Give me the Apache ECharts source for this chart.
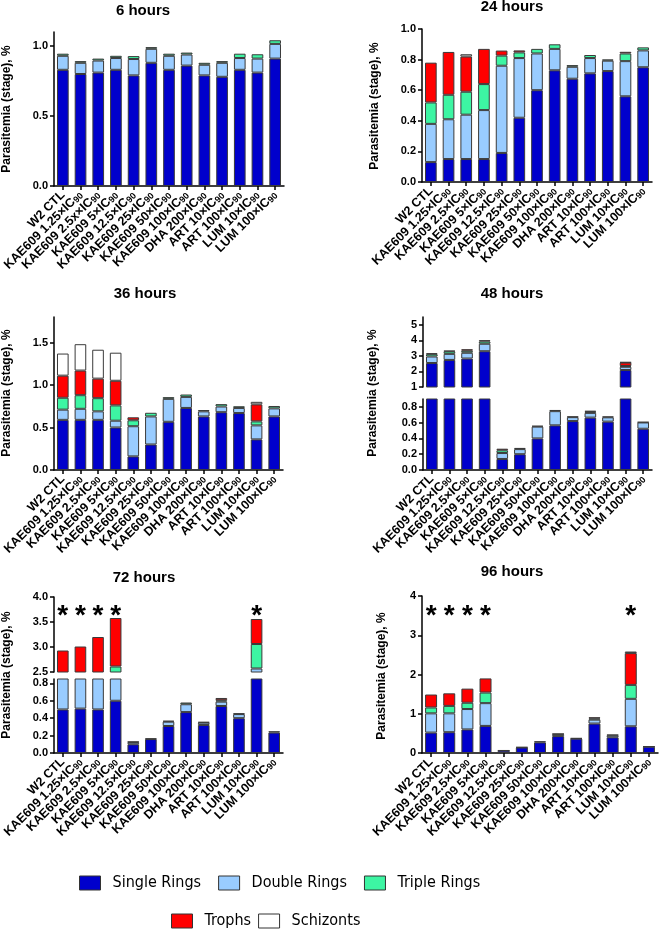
<!DOCTYPE html>
<html><head><meta charset="utf-8">
<script src="https://cdn.jsdelivr.net/npm/echarts@6/dist/echarts.min.js"></script>
<style>html,body{margin:0;padding:0;background:#fff}#c{width:660px;height:932px}</style>
</head><body><div id="c"></div>
<script>
// ---------- categories ----------
const categories = ['W2 CTL','KAE609 1.25×IC90','KAE609 2.5×IC90','KAE609 5×IC90','KAE609 12.5×IC90','KAE609 25×IC90','KAE609 50×IC90','KAE609 100×IC90','DHA 200×IC90','ART 10×IC90','ART 100×IC90','LUM 10×IC90','LUM 100×IC90'];
const categories6h = ['W2 CTL','KAE609 1.25×IC90','KAE609 2.5x×IC90','KAE609 5×IC90','KAE609 12.5×IC90','KAE609 25×IC90','KAE609 50×IC90','KAE609 100×IC90','DHA 200×IC90','ART 10×IC90','ART 100×IC90','LUM 10×IC90','LUM 100×IC90'];
const stages = ['Single Rings','Double Rings','Triple Rings','Trophs','Schizonts'];

// ---------- 6 hours ----------
const h6Single    = [0.83,0.80,0.81,0.83,0.79,0.88,0.83,0.86,0.79,0.78,0.83,0.81,0.91];
const h6Double    = [0.10,0.08,0.086,0.084,0.117,0.10,0.10,0.079,0.076,0.10,0.084,0.10,0.105];
const h6Triple    = [0.015,0.012,0.014,0.016,0.021,0.012,0.015,0.014,0.014,0.012,0.031,0.031,0.026];
const h6Trophs    = [0,0,0,0,0,0,0,0,0,0,0,0,0];
const h6Schizonts = [0,0,0,0,0,0,0,0,0,0,0,0,0];
// ---------- 24 hours ----------
const h24Single    = [0.13,0.15,0.15,0.15,0.19,0.42,0.60,0.73,0.675,0.71,0.725,0.56,0.75];
const h24Double    = [0.25,0.26,0.29,0.32,0.57,0.39,0.24,0.14,0.078,0.10,0.068,0.23,0.11];
const h24Triple    = [0.14,0.16,0.15,0.17,0.066,0.037,0.03,0.03,0.011,0.02,0.008,0.05,0.02];
const h24Trophs    = [0.26,0.28,0.23,0.23,0.033,0.013,0,0,0,0,0,0.011,0];
const h24Schizonts = [0,0,0.015,0,0,0,0,0,0,0,0,0,0];
// ---------- 36 hours ----------
const h36Single    = [0.59,0.59,0.59,0.50,0.16,0.30,0.567,0.73,0.63,0.68,0.67,0.36,0.63];
const h36Double    = [0.12,0.13,0.10,0.08,0.355,0.33,0.27,0.13,0.06,0.067,0.06,0.165,0.095];
const h36Triple    = [0.14,0.16,0.155,0.18,0.07,0.043,0.02,0.028,0.015,0.028,0.02,0.047,0.028];
const h36Trophs    = [0.26,0.29,0.23,0.29,0.035,0,0,0,0,0,0,0.20,0];
const h36Schizonts = [0.26,0.31,0.34,0.33,0,0,0,0,0,0,0,0.03,0];
// ---------- 48 hours ----------
const h48Single    = [2.54,2.74,2.83,3.30,0.14,0.20,0.40,0.566,0.62,0.664,0.613,2.09,0.523];
const h48Double    = [0.42,0.39,0.37,0.48,0.075,0.065,0.15,0.18,0.05,0.06,0.055,0.21,0.08];
const h48Triple    = [0.15,0.16,0.13,0.15,0.035,0.015,0.01,0.015,0.008,0.015,0.01,0.05,0.005];
const h48Trophs    = [0.06,0.04,0.10,0.08,0.02,0,0,0,0,0.01,0,0.22,0];
const h48Schizonts = [0,0,0,0,0,0,0,0,0,0,0,0.03,0];
// ---------- 72 hours ----------
const h72Single    = [0.50,0.51,0.50,0.60,0.10,0.16,0.31,0.47,0.322,0.54,0.40,1.30,0.235];
const h72Double    = [0.55,0.56,0.60,1.30,0.025,0.007,0.05,0.09,0.027,0.05,0.047,1.27,0.015];
const h72Triple    = [0.25,0.28,0.30,0.71,0.005,0,0.01,0.02,0.007,0.016,0.008,0.49,0];
const h72Trophs    = [1.63,1.66,1.80,0.97,0,0,0,0,0,0.026,0,0.50,0];
const h72Schizonts = [0,0,0,0,0,0,0,0,0,0,0,0,0];
// ---------- 96 hours ----------
const h96Single    = [0.52,0.53,0.60,0.69,0.06,0.14,0.27,0.43,0.365,0.75,0.40,0.68,0.16];
const h96Double    = [0.49,0.48,0.52,0.58,0.008,0.01,0.03,0.05,0.015,0.10,0.05,0.70,0.01];
const h96Triple    = [0.15,0.19,0.16,0.27,0,0,0,0.01,0,0.03,0.016,0.355,0];
const h96Trophs    = [0.33,0.32,0.36,0.36,0,0,0,0,0,0.03,0,0.81,0];
const h96Schizonts = [0,0,0,0,0,0,0,0,0,0,0,0.04,0];
// ---------- significance marks ----------
const stars72 = ['W2 CTL','KAE609 1.25×IC90','KAE609 2.5×IC90','KAE609 5×IC90','LUM 10×IC90'];
const stars96 = ['W2 CTL','KAE609 1.25×IC90','KAE609 2.5×IC90','KAE609 5×IC90','LUM 10×IC90'];

const yName = 'Parasitemia (stage), %';
const FONT = 'Arial, "Liberation Sans", sans-serif';
const LFONT = '"DejaVu Sans Condensed", Arial, sans-serif';
const colors = ['#0000CC','#99CCFF','#3DF5A3','#FF0000','#FFFFFF'];

const panels = [
  {title:'6 hours', tx:143, ty:3, cats:categories6h, values:[h6Single,h6Double,h6Triple,h6Trophs,h6Schizonts], nx:7, ny:109,
   parts:[{left:54,top:32,width:230,height:154,min:0,max:1.1,ticks:[0,0.5,1.0],dec:1}]},
  {title:'24 hours', tx:512, ty:-1, cats:categories, values:[h24Single,h24Double,h24Triple,h24Trophs,h24Schizonts], nx:375, ny:106,
   parts:[{left:422,top:29,width:230,height:153,min:0,max:1.0,ticks:[0,0.2,0.4,0.6,0.8,1.0],dec:1}]},
  {title:'36 hours', tx:145, ty:286, cats:categories, values:[h36Single,h36Double,h36Triple,h36Trophs,h36Schizonts], nx:7, ny:393,
   parts:[{left:54,top:317,width:229,height:153,min:0,max:1.8,ticks:[0,0.5,1.0,1.5],dec:1}]},
  {title:'48 hours', tx:512, ty:286, cats:categories, values:[h48Single,h48Double,h48Triple,h48Trophs,h48Schizonts], nx:373, ny:393,
   parts:[{left:423,top:399,width:229,height:71,min:0,max:0.9,ticks:[0,0.2,0.4,0.6,0.8],dec:1},
          {left:423,top:317,width:229,height:70,min:1,max:5.5,ticks:[1,2,3,4,5],dec:0,upper:true}]},
  {title:'72 hours', tx:144, ty:570, cats:categories, values:[h72Single,h72Double,h72Triple,h72Trophs,h72Schizonts], nx:7, ny:675,
   parts:[{left:54,top:679,width:229,height:74,min:0,max:0.85,ticks:[0,0.2,0.4,0.6,0.8],dec:1},
          {left:54,top:597,width:229,height:75,min:2.5,max:4.0,ticks:[2.5,3.0,3.5,4.0],dec:1,upper:true}],
   stars:stars72, starY:3.78},
  {title:'96 hours', tx:512, ty:564, cats:categories, values:[h96Single,h96Double,h96Triple,h96Trophs,h96Schizonts], nx:382, ny:676,
   parts:[{left:422,top:596,width:236,height:157,min:0,max:4,ticks:[0,1,2,3,4],dec:0}],
   stars:stars96, starY:3.69}
];

function fmtCat(v){
  const m = v.match(/^(.*)IC90$/);
  return m ? '{a|' + m[1] + 'IC}{s|90}' : '{a|' + v + '}';
}

const legendBase = {padding:0, itemWidth:21, itemHeight:14, icon:'rect', selectedMode:false,
  itemStyle:{borderColor:'#333', borderWidth:1},
  textStyle:{fontSize:16, fontFamily:LFONT, color:'#000', padding:[0,0,0,7]}};

const option = {animation:false, backgroundColor:'#fff', title:[], grid:[], xAxis:[], yAxis:[], series:[], graphic:[],
  legend:[
    Object.assign({data:stages.slice(0,3), left:79, top:875, itemGap:17}, legendBase),
    Object.assign({data:stages.slice(3), left:171, top:913, itemGap:7}, legendBase)
  ]};

panels.forEach(p => {
  option.title.push({text:p.title, left:p.tx, top:p.ty, textAlign:'center', padding:0,
    textStyle:{fontSize:15, fontWeight:'bold', fontFamily:FONT, color:'#000'}});
  option.graphic.push({type:'text', x:p.nx, y:p.ny, rotation:Math.PI/2,
    style:{text:yName, font:'bold 12px ' + FONT, fill:'#000', align:'center', verticalAlign:'middle'}});
  let upperIdx = null, mainIdx = null;
  p.parts.forEach(g => {
    const idx = option.grid.length;
    if (g.upper) upperIdx = idx; else mainIdx = idx;
    option.grid.push({left:g.left, top:g.top, width:g.width, height:g.height, containLabel:false, outerBoundsMode:'none'});
    option.xAxis.push({type:'category', gridIndex:idx, data:p.cats, show:!g.upper,
      axisLine:{show:true, lineStyle:{color:'#000', width:1.5}},
      axisTick:{show:true, alignWithLabel:true, interval:0, length:4, lineStyle:{color:'#000', width:1.5}},
      axisLabel:{rotate:45, interval:0, margin:7, color:'#000', formatter:fmtCat,
        rich:{a:{fontSize:12.5, fontWeight:'bold', fontFamily:FONT, color:'#000'},
              s:{fontSize:9, fontWeight:'bold', fontFamily:FONT, color:'#000', verticalAlign:'bottom', padding:[4,0,0,0]}}},
      splitLine:{show:false}});
    option.yAxis.push({type:'value', gridIndex:idx, min:g.min, max:g.max,
      axisLine:{show:true, lineStyle:{color:'#000', width:1.5}},
      axisTick:{show:true, length:4, customValues:g.ticks, lineStyle:{color:'#000', width:1.5}},
      axisLabel:{customValues:g.ticks, margin:6, fontSize:11, fontWeight:'bold', fontFamily:FONT, color:'#000',
        formatter: v => Number(v).toFixed(g.dec)},
      splitLine:{show:false}});
    stages.forEach((s, si) => {
      option.series.push({type:'bar', name:s, xAxisIndex:idx, yAxisIndex:idx, stack:'st' + idx, clip:true,
        barWidth:'66%', data:p.values[si].map(v => v === 0 ? '-' : v),
        itemStyle:{color:colors[si], borderColor:'#3a3a3a', borderWidth:1},
        emphasis:{disabled:true}});
    });
  });
  if (p.stars) {
    const si = upperIdx !== null ? upperIdx : mainIdx;
    option.series.push({type:'scatter', xAxisIndex:si, yAxisIndex:si, symbolSize:1, itemStyle:{color:'transparent'},
      data:p.stars.map(c => [c, p.starY]),
      label:{show:true, formatter:'*', position:'inside', offset:[0,8], fontSize:28, fontWeight:'bold', fontFamily:FONT, color:'#000', opacity:1},
      emphasis:{disabled:true}, silent:true});
  }
});

const chart = echarts.init(document.getElementById('c'), null, {renderer:'canvas'});
chart.setOption(option);
</script>
</body></html>
